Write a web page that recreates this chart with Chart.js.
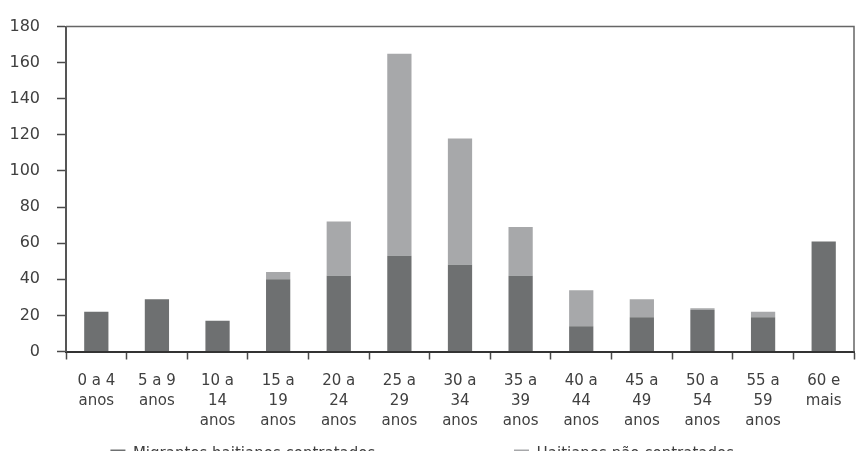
<!DOCTYPE html>
<html>
<head>
<meta charset="utf-8">
<script src="https://cdn.jsdelivr.net/npm/chart.js@4/dist/chart.umd.min.js"></script>
<style>
  html, body { margin: 0; padding: 0; background: #fff; overflow: hidden; }
  #wrap { width: 859px; height: 451px; overflow: hidden; position: relative; }
  canvas { display: block; }
</style>
</head>
<body>
<div id="wrap"><canvas id="c" width="859" height="472"></canvas></div>
<script>
// ---- data ----
const categories = [
  ["0 a 4", "anos"], ["5 a 9", "anos"], ["10 a", "14", "anos"], ["15 a", "19", "anos"],
  ["20 a", "24", "anos"], ["25 a", "29", "anos"], ["30 a", "34", "anos"], ["35 a", "39", "anos"],
  ["40 a", "44", "anos"], ["45 a", "49", "anos"], ["50 a", "54", "anos"], ["55 a", "59", "anos"],
  ["60 e", "mais"]
];
const seriesNames = ["Migrantes haitianos contratados", "Haitianos não contratados"];
const darkValues  = [22, 29, 17, 40, 42, 53, 48, 42, 14, 19, 23, 19, 61];
const lightValues = [0, 0, 0, 4, 30, 112, 70, 27, 20, 10, 1, 3, 0];
const yMin = 0, yMax = 180, yStep = 20;

const textColor = '#404040';
const axisColor = '#4a4a4a';
const fontFamily = '"DejaVu Sans", sans-serif';

const framePlugin = {
  id: 'frame',
  afterDraw(chart) {
    const {ctx, chartArea: a} = chart;
    ctx.save();
    ctx.strokeStyle = '#666';
    ctx.lineWidth = 1.5;
    ctx.beginPath();
    ctx.moveTo(a.left, a.top);
    ctx.lineTo(a.right, a.top);
    ctx.lineTo(a.right, a.bottom);
    ctx.stroke();
    ctx.restore();
  }
};

new Chart(document.getElementById('c'), {
  type: 'bar',
  data: {
    labels: categories,
    datasets: [
      { label: seriesNames[0], data: darkValues, backgroundColor: '#6e7071', borderWidth: 0 },
      { label: seriesNames[1], data: lightValues, backgroundColor: '#a7a8aa', borderWidth: 0 }
    ]
  },
  options: {
    responsive: false,
    animation: false,
    layout: { padding: { top: 20, right: 5, left: 0, bottom: 0 } },
    datasets: { bar: { categoryPercentage: 1.0, barPercentage: 0.4 } },
    plugins: {
      tooltip: { enabled: false },
      legend: {
        position: 'bottom',
        labels: {
          color: textColor,
          font: { family: fontFamily, size: 15 },
          boxWidth: 15,
          boxHeight: 10,
          padding: 10,
          generateLabels(chart) {
            const items = Chart.defaults.plugins.legend.labels.generateLabels(chart);
            // wide column spacing between the two legend entries, as in the source
            if (items[0]) items[0].text = items[0].text + ' '.repeat(27);
            if (items[1]) items[1].text = items[1].text + ' '.repeat(2);
            return items;
          }
        }
      }
    },
    scales: {
      x: {
        stacked: true,
        offset: true,
        grid: {
          offset: true,
          drawOnChartArea: false,
          drawTicks: true,
          tickLength: 8,
          tickColor: axisColor,
          tickWidth: 1.5
        },
        border: { display: true, color: '#333', width: 2 },
        ticks: {
          color: textColor,
          font: { family: fontFamily, size: 15, lineHeight: 1.33 },
          padding: 12,
          maxRotation: 0,
          autoSkip: false
        },
        afterFit(s) { s.height = 85.5; }
      },
      y: {
        stacked: true,
        min: yMin,
        max: yMax,
        grid: {
          drawOnChartArea: false,
          drawTicks: true,
          tickLength: 9,
          tickColor: axisColor,
          tickWidth: 1.5
        },
        border: { display: true, color: '#555', width: 2 },
        ticks: {
          stepSize: yStep,
          color: textColor,
          font: { family: fontFamily, size: 16 },
          padding: 17
        },
        afterFit(s) { s.width = 66; }
      }
    }
  },
  plugins: [framePlugin]
});
</script>
</body>
</html>
